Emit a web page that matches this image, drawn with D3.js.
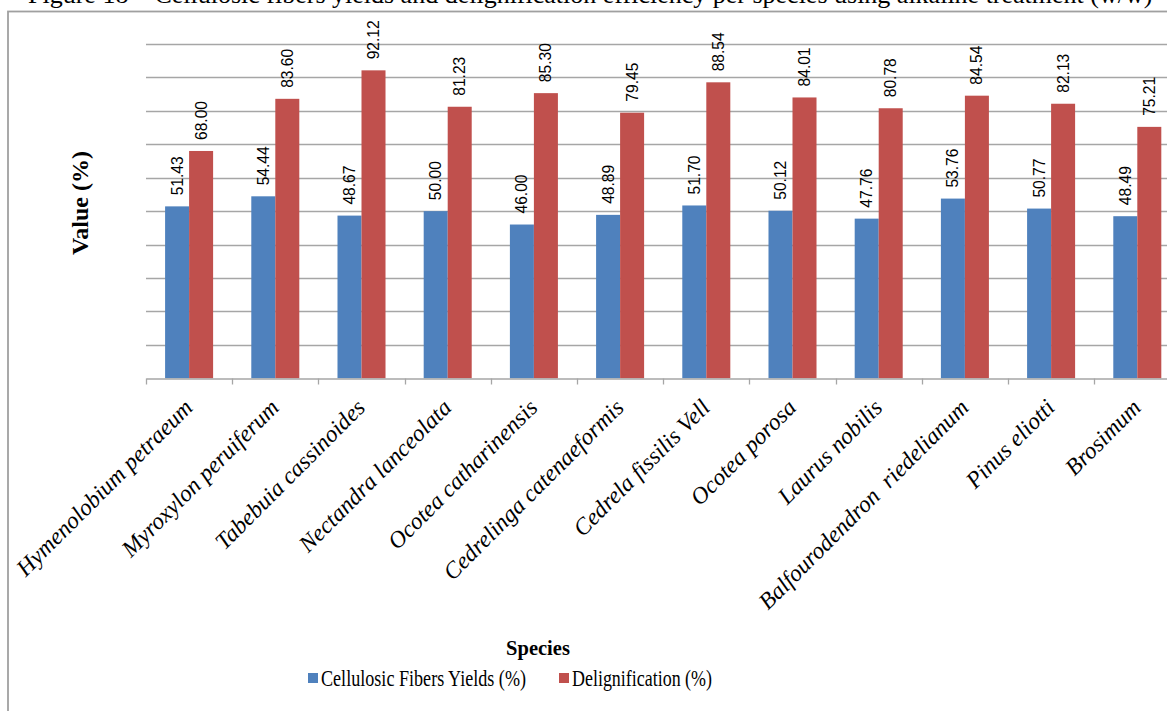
<!DOCTYPE html>
<html>
<head>
<meta charset="utf-8">
<script src="https://cdn.jsdelivr.net/npm/d3@7"></script>
<style>
  html, body { margin: 0; padding: 0; background: #fff; }
  svg { display: block; }
</style>
</head>
<body>
<svg id="chart" width="1167" height="711"></svg>
<script>
// Species and the two measured series (%)
const species = [
  "Hymenolobium petraeum",
  "Myroxylon peruiferum",
  "Tabebuia cassinoides",
  "Nectandra lanceolata",
  "Ocotea catharinensis",
  "Cedrelinga catenaeformis",
  "Cedrela fissilis Vell",
  "Ocotea porosa",
  "Laurus nobilis",
  "Balfourodendron  riedelianum",
  "Pinus eliotti",
  "Brosimum"
];
const fiberYield = [51.43, 54.44, 48.67, 50.00, 46.00, 48.89, 51.70, 50.12, 47.76, 53.76, 50.77, 48.49];
const delignification = [68.00, 83.60, 92.12, 81.23, 85.30, 79.45, 88.54, 84.01, 80.78, 84.54, 82.13, 75.21];
const seriesNames = ["Cellulosic Fibers Yields (%)", "Delignification (%)"];
const gridTicks = [10, 20, 30, 40, 50, 60, 70, 80, 90, 100];
const captionText = "Figure 18 – Cellulosic fibers yields and delignification efficiency per species using alkaline treatment (w/w)";

const colors = ["#4F81BD", "#C0504D"];
const gridColor = "#a6a6a6";
const serif = "'Liberation Serif', 'Times New Roman', serif";
const sans = "'Liberation Sans', Arial, sans-serif";

const svg = d3.select("#chart");

// Layout of the plot area
const plotLeft = 146, step = 86.2;
const plotRight = plotLeft + step * species.length;
const plotTop = 44, plotBottom = 378.3;

const x = d3.scaleBand().domain(species).range([plotLeft, plotRight])
  .paddingInner(0.443).paddingOuter(0.2215);
const xs = d3.scaleBand().domain([0, 1]).range([0, x.bandwidth()]);
const y = d3.scaleLinear().domain([0, 100]).range([plotBottom, plotTop]);

// Figure caption (runs past the top edge of the page)
svg.append("text")
  .attr("x", 28).attr("y", 3)
  .attr("font-family", serif).attr("font-size", 26)
  .attr("fill", "#000")
  .text(captionText);

// Chart frame
svg.append("rect")
  .attr("x", 8).attr("y", 11.5)
  .attr("width", 1300).attr("height", 900)
  .attr("fill", "none").attr("stroke", "#a0a0a0").attr("stroke-width", 1.8);

// Horizontal gridlines
svg.append("g").selectAll("line").data(gridTicks).join("line")
  .attr("x1", plotLeft).attr("x2", plotRight)
  .attr("y1", d => Math.round(y(d)) + 0.5).attr("y2", d => Math.round(y(d)) + 0.5)
  .attr("stroke", gridColor).attr("stroke-width", 1.3);

// Bars
const series = [fiberYield, delignification];
const groups = svg.append("g").selectAll("g").data(species).join("g")
  .attr("transform", d => `translate(${x(d)},0)`);

groups.selectAll("rect")
  .data((d, i) => series.map((s, k) => ({ k, v: s[i] })))
  .join("rect")
  .attr("x", d => xs(d.k))
  .attr("width", xs.bandwidth())
  .attr("y", d => y(d.v))
  .attr("height", d => y(0) - y(d.v))
  .attr("fill", d => colors[d.k]);

// Value labels, rotated above each bar
groups.selectAll("text")
  .data((d, i) => series.map((s, k) => ({ k, v: s[i] })))
  .join("text")
  .attr("transform", d => `translate(${xs(d.k) + xs.bandwidth() / 2 + 5.5},${y(d.v) - 11}) rotate(-90)`)
  .attr("font-family", sans).attr("font-size", 16)
  .attr("textLength", 39).attr("lengthAdjust", "spacingAndGlyphs")
  .attr("fill", "#000")
  .text(d => d.v.toFixed(2));

// Category axis: baseline and tick marks between bands
const xAxis = d3.axisBottom(x).tickSize(0).tickFormat("");
const ax = svg.append("g").attr("transform", `translate(0,${Math.round(plotBottom) + 0.5})`).call(xAxis);
ax.select(".domain").attr("stroke", gridColor).attr("stroke-width", 1.3);
const boundaries = d3.range(species.length + 1).map(i => plotLeft + i * step);
ax.selectAll(".sep").data(boundaries).join("line").attr("class", "sep")
  .attr("x1", d => Math.round(d) + 0.5).attr("x2", d => Math.round(d) + 0.5)
  .attr("y1", 0).attr("y2", 6)
  .attr("stroke", gridColor).attr("stroke-width", 1.3);

// Rotated species names
svg.append("g").selectAll("text").data(species).join("text")
  .attr("transform", d => `translate(${x(d) + x.bandwidth() / 2 + 5},409) rotate(-45)`)
  .attr("text-anchor", "end")
  .attr("font-family", serif).attr("font-style", "italic").attr("font-size", 23.5)
  .attr("fill", "#000")
  .style("white-space", "pre")
  .text(d => d);

// Axis titles
svg.append("text")
  .attr("transform", "translate(88,203) rotate(-90)")
  .attr("text-anchor", "middle")
  .attr("font-family", serif).attr("font-weight", "bold").attr("font-size", 24)
  .attr("fill", "#000")
  .text("Value (%)");

svg.append("text")
  .attr("x", 538).attr("y", 655)
  .attr("text-anchor", "middle")
  .attr("font-family", serif).attr("font-weight", "bold").attr("font-size", 20.5)
  .attr("fill", "#000")
  .text("Species");

// Legend
const legendX = [308, 559];
const legendTextWidth = [205, 140];
const legend = svg.append("g").selectAll("g").data(seriesNames).join("g")
  .attr("transform", (d, i) => `translate(${legendX[i]},673)`);
legend.append("rect")
  .attr("width", 10).attr("height", 10)
  .attr("fill", (d, i) => colors[i]);
legend.append("text")
  .attr("x", 13).attr("y", 12.5)
  .attr("font-family", serif).attr("font-size", 22.5)
  .attr("textLength", (d, i) => legendTextWidth[i]).attr("lengthAdjust", "spacingAndGlyphs")
  .attr("fill", "#000")
  .text(d => d);
</script>
</body>
</html>
